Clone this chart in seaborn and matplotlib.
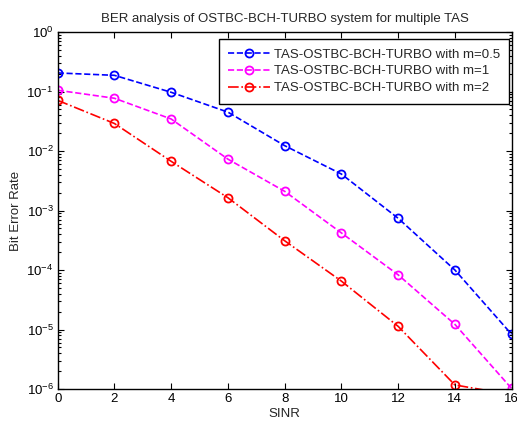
import numpy as np
import pandas as pd
import seaborn as sns
import matplotlib.pyplot as plt
import matplotlib.ticker as mticker

# SINR points and BER curves
sinr = [0, 2, 4, 6, 8, 10, 12, 14, 16]
ber_m05 = [0.205, 0.187, 0.097, 0.045, 0.0123, 0.0041, 7.4e-4, 1.0e-4, 8.3e-6]
ber_m1 = [0.105, 0.077, 0.0345, 0.0073, 0.0021, 4.2e-4, 8.3e-5, 1.22e-5, 1.02e-6]
ber_m2 = [0.071, 0.029, 0.0067, 0.00164, 3.1e-4, 6.5e-5, 1.13e-5, 1.17e-6, 8.0e-7]

labels = ["TAS-OSTBC-BCH-TURBO with m=0.5",
          "TAS-OSTBC-BCH-TURBO with m=1",
          "TAS-OSTBC-BCH-TURBO with m=2"]
colors = ["#0000ff", "#ff00ff", "#ff0000"]
styles = ["--", "--", "-."]
fs = 9.5

sns.set_style("ticks")
plt.rcParams['font.family'] = ['Liberation Sans', 'DejaVu Sans']
plt.rcParams['mathtext.fontset'] = 'custom'
plt.rcParams['mathtext.rm'] = 'Liberation Sans'
plt.rcParams['xtick.direction'] = 'in'
plt.rcParams['ytick.direction'] = 'in'

fig = plt.figure(figsize=(5.17, 4.25), dpi=100)
ax = fig.add_axes([0.1116, 0.0847, 0.878, 0.84])

for ber, lab, col, ls in zip([ber_m05, ber_m1, ber_m2], labels, colors, styles):
    df = pd.DataFrame({"sinr": sinr, "ber": ber})
    sns.lineplot(data=df, x="sinr", y="ber", ax=ax, color=col, label=lab,
                 linestyle=ls, linewidth=1.2, marker="o", markersize=5.8,
                 markerfacecolor="none", markeredgecolor=col, markeredgewidth=1.3)

ax.set_yscale("log")
ax.set_xlim(0, 16)
ax.set_ylim(1e-6, 1)
ax.set_xticks(sinr)
ax.yaxis.set_major_locator(mticker.LogLocator(base=10, numticks=10))
ax.yaxis.set_minor_locator(mticker.LogLocator(base=10, subs=np.arange(2, 10), numticks=10))
ax.yaxis.set_minor_formatter(mticker.NullFormatter())
ax.tick_params(which="both", top=True, right=True, labelsize=fs, width=0.8, colors="black", pad=3)
ax.tick_params(which="major", length=4)
ax.tick_params(which="minor", length=2)
for s in ax.spines.values():
    s.set_linewidth(1.0)
    s.set_color("black")

ax.set_xlabel("SINR", fontsize=fs, labelpad=2)
ax.set_ylabel("Bit Error Rate", fontsize=fs, labelpad=3)
ax.set_title("BER analysis of OSTBC-BCH-TURBO system for multiple TAS", fontsize=fs, pad=7)

leg = ax.legend(loc="upper right", bbox_to_anchor=(0.994, 0.98), fontsize=fs,
                frameon=True, fancybox=False, edgecolor="black", handlelength=3.2,
                borderaxespad=0, labelspacing=0.35, borderpad=0.7, handletextpad=0.25)
leg.get_frame().set_linewidth(1.0)
leg.get_frame().set_alpha(1)

fig.savefig("out.png", dpi=100, facecolor="white")
